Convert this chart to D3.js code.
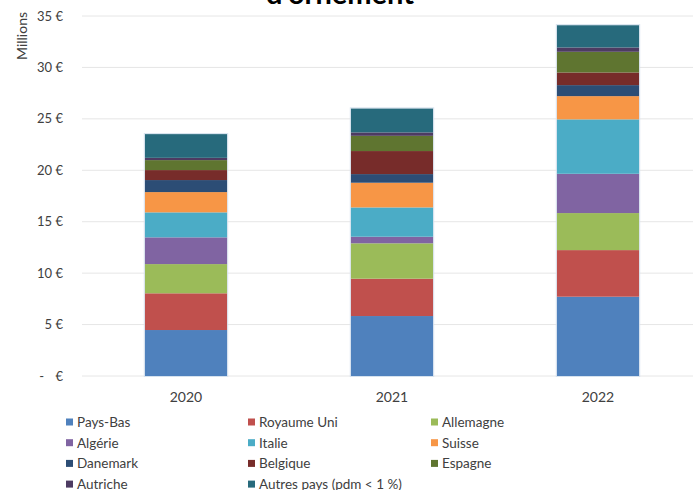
<!DOCTYPE html>
<html>
<head>
<meta charset="utf-8">
<script src="https://cdn.jsdelivr.net/npm/d3@7"></script>
<style>
  body { margin: 0; background: #fff; }
  svg { font-family: Lato, "Open Sans", sans-serif; }
</style>
</head>
<body>
<svg id="chart" width="694" height="490"></svg>
<script>
const years = ["2020", "2021", "2022"];
const countries = ["Pays-Bas", "Royaume Uni", "Allemagne", "Algérie", "Italie", "Suisse",
  "Danemark", "Belgique", "Espagne", "Autriche", "Autres pays (pdm < 1 %)"];
const colors = ["#4F81BD", "#C0504D", "#9BBB59", "#8064A2", "#4BACC6", "#F79646",
  "#2C4D75", "#772C2A", "#5F7530", "#4D3B62", "#276A7C"];
// millions d'euros, one array per country: [2020, 2021, 2022]
const paysBas    = [4.47, 5.83, 7.71];
const royaumeUni = [3.57, 3.63, 4.53];
const allemagne  = [2.84, 3.44, 3.60];
const algerie    = [2.60, 0.64, 3.82];
const italie     = [2.43, 2.85, 5.29];
const suisse     = [1.97, 2.40, 2.26];
const danemark   = [1.17, 0.84, 1.07];
const belgique   = [0.97, 2.24, 1.23];
const espagne    = [0.97, 1.48, 2.01];
const autriche   = [0.22, 0.33, 0.42];
const autres     = [2.31, 2.34, 2.17];
const yTicks = [0, 5, 10, 15, 20, 25, 30, 35];

const series = [paysBas, royaumeUni, allemagne, algerie, italie, suisse,
  danemark, belgique, espagne, autriche, autres];

const rows = years.map((y, i) => {
  const r = { year: y };
  countries.forEach((c, k) => r[c] = series[k][i]);
  return r;
});

const svg = d3.select("#chart");
const x = d3.scaleBand().domain(years).range([83, 701]).paddingInner(0.6).paddingOuter(0.3);
const y = d3.scaleLinear().domain([0, 35]).range([376, 16]);

// title (only the bottom of its second line is visible)
svg.append("text")
  .attr("x", 340).attr("y", 4)
  .attr("text-anchor", "middle")
  .attr("font-size", 29).attr("font-weight", "bold").attr("fill", "#000")
  .text("d'ornement");

// grid
svg.append("g").selectAll("line").data(yTicks).enter().append("line")
  .attr("x1", 82).attr("x2", 693)
  .attr("y1", d => y(d)).attr("y2", d => y(d))
  .attr("stroke", "#e6e6e6").attr("stroke-width", 1);

// y tick labels
const yl = svg.append("g").attr("font-size", 13).attr("fill", "#404040");
yTicks.forEach(t => {
  if (t === 0) {
    yl.append("text").attr("x", 44).attr("y", y(t) + 4.5).attr("text-anchor", "end").text("-");
  }
  yl.append("text").attr("x", 63).attr("y", y(t) + 4.5).attr("text-anchor", "end")
    .text(t === 0 ? "€" : t + " €");
});

svg.append("text")
  .attr("transform", "translate(27,36) rotate(-90)")
  .attr("text-anchor", "middle").attr("font-size", 14).attr("fill", "#404040")
  .text("Millions");

// stacked bars
const stack = d3.stack().keys(countries)(rows);
svg.append("g").selectAll("g").data(stack).enter().append("g")
  .attr("fill", (d, i) => colors[i])
  .selectAll("rect").data(d => d).enter().append("rect")
  .attr("x", d => x(d.data.year))
  .attr("width", x.bandwidth())
  .attr("y", d => y(d[1]))
  .attr("height", d => y(d[0]) - y(d[1]));

// light outline around each full bar
svg.append("g").selectAll("rect").data(rows).enter().append("rect")
  .attr("x", d => x(d.year) - 0.5)
  .attr("width", x.bandwidth() + 1)
  .attr("y", d => y(d3.sum(countries, c => d[c])) - 0.5)
  .attr("height", d => y(0) - y(d3.sum(countries, c => d[c])) + 1)
  .attr("fill", "none").attr("stroke", "#d6e2ee").attr("stroke-width", 1);

// x labels
svg.append("g").selectAll("text").data(years).enter().append("text")
  .attr("x", d => x(d) + x.bandwidth() / 2).attr("y", 402)
  .attr("text-anchor", "middle").attr("font-size", 14).attr("fill", "#404040")
  .text(d => d);

// legend
const colX = [66, 248, 431];
const legend = svg.append("g").attr("font-size", 13.5).attr("fill", "#404040");
countries.forEach((c, i) => {
  const cx = colX[i % 3];
  const cy = 422 + Math.floor(i / 3) * 20.7;
  legend.append("rect").attr("x", cx).attr("y", cy - 3.5).attr("width", 7).attr("height", 7)
    .attr("fill", colors[i]);
  legend.append("text").attr("x", cx + 11).attr("y", cy + 5).text(c);
});
</script>
</body>
</html>
